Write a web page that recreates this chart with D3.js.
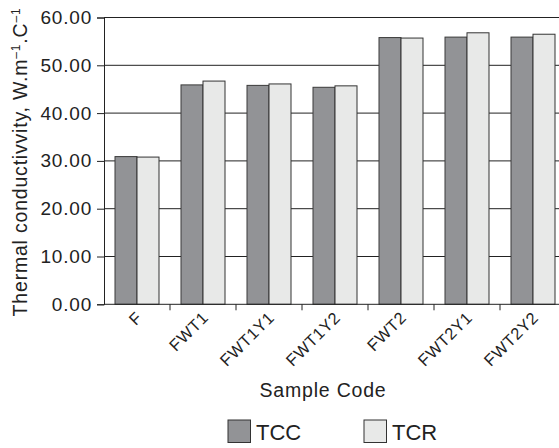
<!DOCTYPE html>
<html>
<head>
<meta charset="utf-8">
<script src="https://cdn.jsdelivr.net/npm/d3@7"></script>
<style>
  body { margin: 0; background: #fff; }
  svg { display: block; font-family: "Liberation Sans", Arial, sans-serif; }
</style>
</head>
<body>
<svg></svg>
<script>
// Chart data
const categories = ["F", "FWT1", "FWT1Y1", "FWT1Y2", "FWT2", "FWT2Y1", "FWT2Y2"];
const seriesNames = ["TCC", "TCR"];
const tccValues = [30.9, 45.9, 45.8, 45.4, 55.8, 55.9, 55.9];
const tcrValues = [30.8, 46.7, 46.1, 45.7, 55.7, 56.8, 56.5];
const yTicks = [0, 10, 20, 30, 40, 50, 60];

const colors = { TCC: "#929396", TCR: "#e8e9e8" };
const strokes = { TCC: "#3a3a3a", TCR: "#333" };

// Dimensions
const fullWidth = 559, fullHeight = 448;
const margin = { top: 17.5, left: 104 },
      width = 462,
      height = 286.8;

const svgRoot = d3.select("svg")
    .attr("width", fullWidth)
    .attr("height", fullHeight);

const svg = svgRoot.append("g")
    .attr("transform", `translate(${margin.left},${margin.top})`);

// Scales
const x0 = d3.scaleBand()
    .domain(categories)
    .range([0, width])
    .paddingInner(1 / 3)
    .paddingOuter(1 / 6);

const xStep = d3.scaleBand()
    .domain(categories)
    .range([0, width]);

const x1 = d3.scaleBand()
    .domain(seriesNames)
    .range([0, x0.bandwidth()]);

const y = d3.scaleLinear()
    .domain([0, 60])
    .range([height, 0]);

// Grid lines (behind bars)
svg.append("g")
    .selectAll("line")
    .data(yTicks.filter(d => d > 0))
    .join("line")
    .attr("x1", 0)
    .attr("x2", width)
    .attr("y1", d => y(d))
    .attr("y2", d => y(d))
    .attr("stroke", "#222")
    .attr("stroke-width", 1);

// Bars
const rows = categories.map((c, i) => ({ cat: c, TCC: tccValues[i], TCR: tcrValues[i] }));

svg.append("g")
    .selectAll("g")
    .data(rows)
    .join("g")
    .attr("transform", d => `translate(${x0(d.cat)},0)`)
    .selectAll("rect")
    .data(d => seriesNames.map(s => ({ key: s, value: d[s] })))
    .join("rect")
    .attr("x", d => x1(d.key))
    .attr("y", d => y(d.value))
    .attr("width", x1.bandwidth())
    .attr("height", d => y(0) - y(d.value))
    .attr("fill", d => colors[d.key])
    .attr("stroke", d => strokes[d.key])
    .attr("stroke-width", 1);

// Y axis
svg.append("g")
    .call(d3.axisLeft(y).tickValues(yTicks).tickFormat(d3.format(".2f")).tickSize(7).tickPadding(5))
    .call(g => g.attr("font-family", null).attr("font-size", null))
    .call(g => g.select(".domain").attr("stroke", "#222"))
    .call(g => g.selectAll(".tick line").attr("stroke", "#222"))
    .call(g => g.selectAll(".tick text")
        .attr("fill", "#222")
        .style("font-size", "19px")
        .style("letter-spacing", "0.8px"));

// X axis line
svg.append("line")
    .attr("x1", 0)
    .attr("x2", width)
    .attr("y1", height)
    .attr("y2", height)
    .attr("stroke", "#222");

// Boundary ticks between categories
svg.append("g")
    .selectAll("line")
    .data(categories.slice(1))
    .join("line")
    .attr("x1", d => xStep(d))
    .attr("x2", d => xStep(d))
    .attr("y1", height)
    .attr("y2", height + 6)
    .attr("stroke", "#222");

// Rotated category labels, placed in page coordinates on the root svg
svgRoot.append("g")
    .selectAll("text")
    .data(categories)
    .join("text")
    .attr("transform", d => `translate(${margin.left + x0(d) + x0.bandwidth() / 2 - 2},${margin.top + height + 6}) rotate(-45)`)
    .attr("text-anchor", "end")
    .attr("dy", "0.72em")
    .attr("fill", "#222")
    .style("font-size", "16.5px")
    .style("letter-spacing", "0.6px")
    .text(d => d);

// X axis title
svgRoot.append("text")
    .attr("x", 323)
    .attr("y", 397)
    .attr("text-anchor", "middle")
    .attr("fill", "#222")
    .style("font-size", "19.5px")
    .style("letter-spacing", "0.8px")
    .text("Sample Code");

// Y axis title with superscripts
const yTitle = svgRoot.append("text")
    .attr("transform", "rotate(-90)")
    .attr("x", -162)
    .attr("y", 27)
    .attr("text-anchor", "middle")
    .attr("fill", "#222")
    .style("font-size", "19.5px")
    .style("letter-spacing", "0.8px");
yTitle.append("tspan").text("Thermal conductivvity, W.m");
yTitle.append("tspan").attr("dy", -7).style("font-size", "12px").text("\u20131");
yTitle.append("tspan").attr("dy", 7).text(".C");
yTitle.append("tspan").attr("dy", -7).style("font-size", "12px").text("\u20131");

// Legend
const legendX = [228, 364];
const legend = svgRoot.append("g")
    .selectAll("g")
    .data(seriesNames)
    .join("g")
    .attr("transform", (d, i) => `translate(${legendX[i]},420)`);

legend.append("rect")
    .attr("width", 22.5)
    .attr("height", 22.5)
    .attr("fill", d => colors[d])
    .attr("stroke", "#333");

legend.append("text")
    .attr("x", 28)
    .attr("y", 19.5)
    .attr("fill", "#222")
    .style("font-size", "22px")
    .text(d => d);
</script>
</body>
</html>
